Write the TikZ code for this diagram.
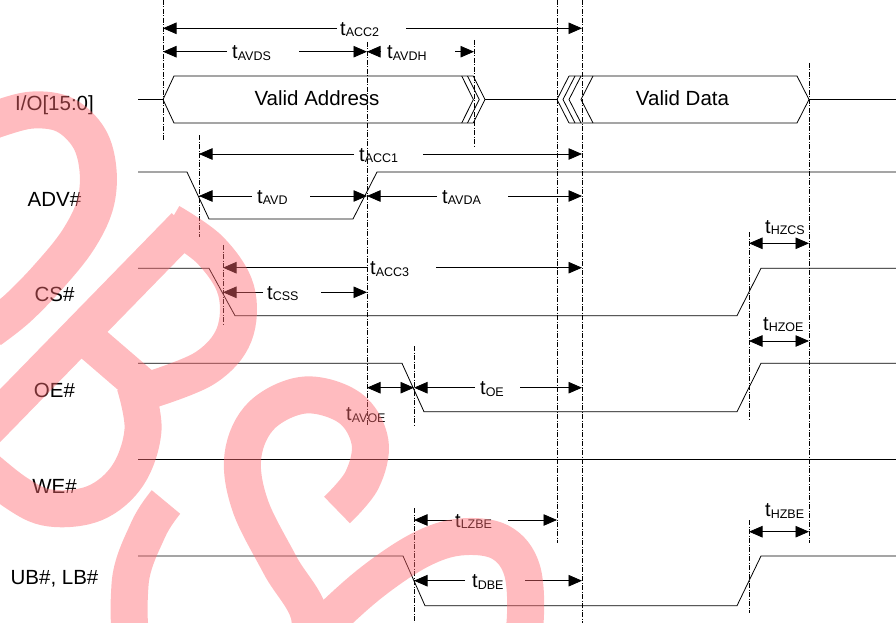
\documentclass[tikz,border=0pt]{standalone}
\usepackage{fontspec}
\setmainfont{Liberation Sans}
\usetikzlibrary{arrows.meta}
\definecolor{wmc}{RGB}{255,105,112}
\newcommand{\Tsub}[1]{t{\fontsize{12.5}{13}\selectfont\raisebox{-1.5pt}{#1}}}
\newcommand{\DimG}[8]{%
  \coordinate (#1a) at (#3,#2);
  \coordinate (#1b) at (#4,#2);
  \coordinate (#1l) at (#5,#2);
  \coordinate (#1r) at (#6,#2);
  \draw[dimarr] (#1l) -- (#1a);
  \draw[dimarr] (#1r) -- (#1b);
  \node[tlab] (#1t) at (#7,#2+7) {\Tsub{#8}};
}
\begin{document}
\begin{tikzpicture}[x=1pt,y=-1pt,
  sig/.style={line width=0.8pt, line join=miter},
  vl/.style={line width=0.55pt, dash pattern=on 5pt off 1.5pt on 1pt off 1.5pt},
  dimarr/.style={line width=0.8pt, -{Triangle[length=13.5pt,width=11.5pt]}},
  dimboth/.style={line width=0.8pt, {Triangle[length=13.5pt,width=11.5pt]}-{Triangle[length=13.5pt,width=11.5pt]}},
  siglab/.style={font=\fontsize{20.5}{22}\selectfont, inner sep=0pt, anchor=base},
  boxlab/.style={font=\fontsize{20.5}{22}\selectfont, inner sep=0pt},
  tlab/.style={font=\fontsize{20}{22}\selectfont, inner sep=0pt, anchor=base west},
  wm/.style={draw=wmc, line width=37pt, opacity=0.45, line cap=butt, line join=round}]
\useasboundingbox (0,0) rectangle (896,623);

% signal names
\node[siglab] (lio)  at (54.5,110.5) {I/O[15:0]};
\node[siglab] (ladv) at (54.5,206) {ADV\#};
\node[siglab] (lcs)  at (54.5,301) {CS\#};
\node[siglab] (loe)  at (54.5,397.5) {OE\#};
\node[siglab] (lwe)  at (54.5,493) {WE\#};
\node[siglab] (lub)  at (54.5,584) {UB\#, LB\#};

% vertical reference lines
\draw[vl] (163,0) -- (163,141);
\draw[vl] (199,135) -- (199,237);
\draw[vl] (223,245) -- (223,325);
\draw[vl] (367,42) -- (367,425);
\draw[vl] (414,346) -- (414,427);
\draw[vl] (414,508) -- (414,623);
\draw[vl] (474,40) -- (474,147);
\draw[vl] (557,0) -- (557,543);
\draw[vl] (582,0) -- (582,623);
\draw[vl] (749,232) -- (749,420);
\draw[vl] (749,520) -- (749,613);
\draw[vl] (809,63) -- (809,543);

% I/O bus
\draw[sig] (138,99.5) -- (163,99.5) -- (174,76) -- (473.3,76);
\draw[sig] (163,99.5) -- (174,123) -- (473.3,123);
\foreach \x in {461.7,467.5,473.3} \draw[sig] (\x,76) -- (\x+11.7,99.5) -- (\x,123);
\draw[sig] (485,99.5) -- (557,99.5);
\foreach \x in {557,563,569,581} \draw[sig] (\x+12,76) -- (\x,99.5) -- (\x+12,123);
\draw[sig] (569,76) -- (797,76) -- (809,99.5) -- (797,123) -- (569,123);
\draw[sig] (809,99.5) -- (896,99.5);
\node[boxlab] (va) at (317,98.5) {Valid Address};
\node[boxlab] (vd) at (682.5,98.5) {Valid Data};

% control signals
\draw[sig] (138,172) -- (187,172) -- (209,219) -- (353,219) -- (377,172) -- (896,172);
\draw[sig] (138,268.3) -- (209,268.3) -- (235,315.7) -- (737,315.7) -- (761,268.3) -- (896,268.3);
\draw[sig] (138,363.3) -- (402,363.3) -- (424,411.7) -- (737,411.7) -- (761,363.3) -- (896,363.3);
\draw[sig] (138,459) -- (896,459);
\draw[sig] (138,556) -- (403,556) -- (425,605.7) -- (737,605.7) -- (761,556) -- (896,556);

% timing dimensions
\DimG{ACC2}{28.3}{163}{582}{337}{406}{340}{ACC2}
\DimG{AVDS}{51.7}{163}{367}{227}{299}{232}{AVDS}
\DimG{AVDH}{51.7}{367}{474}{381}{455}{387}{AVDH}
\DimG{ACC1}{154}{199}{582}{354}{423}{359}{ACC1}
\DimG{AVD}{196}{199}{367}{252}{310}{257}{AVD}
\DimG{AVDA}{196}{367}{582}{437}{508}{442}{AVDA}
\DimG{ACC3}{267.7}{223}{582}{367}{436}{370}{ACC3}
\DimG{CSS}{292.3}{223}{367}{263}{321}{267}{CSS}
\DimG{OE}{387.7}{414}{582}{475}{520}{480}{OE}
\DimG{LZBE}{520}{414}{557}{452}{508}{455}{LZBE}
\DimG{DBE}{580.7}{414}{582}{465}{525}{472}{DBE}

\coordinate (hzcsa) at (749,243.3); \coordinate (hzcsb) at (809,243.3);
\draw[dimboth] (hzcsa) -- (hzcsb);
\node[tlab] (hzcst) at (765,233) {\Tsub{HZCS}};
\coordinate (hzoea) at (749,341); \coordinate (hzoeb) at (809,341);
\draw[dimboth] (hzoea) -- (hzoeb);
\node[tlab] (hzoet) at (763,330) {\Tsub{HZOE}};
\coordinate (hzbea) at (749,531.7); \coordinate (hzbeb) at (809,531.7);
\draw[dimboth] (hzbea) -- (hzbeb);
\node[tlab] (hzbet) at (765,516.7) {\Tsub{HZBE}};
\coordinate (avoea) at (367,387.7); \coordinate (avoeb) at (414,387.7);
\draw[dimboth] (avoea) -- (avoeb);
\node[tlab] (avoet) at (346,420.7) {\Tsub{AVOE}};

% watermark
\begin{scope}
\clip (0,0) rectangle (896,623);
\draw[wm]
  plot[smooth, tension=0.6] coordinates {(-25,128) (0,118) (33,110) (65,115) (89,138) (98,170) (95,205) (78,240) (50,275) (18,308) (-10,330)}
  plot coordinates {(-50,467) (185,226)}
  plot[smooth, tension=0.6] coordinates {(170,222) (210,250) (236,290) (234,335) (205,368) (150,390)}
  plot coordinates {(78,331) (150,393)}
  plot[smooth, tension=0.6] coordinates {(135,385) (143,430) (128,475) (95,503) (50,508) (15,492) (-30,455)}
  plot[smooth, tension=0.6] coordinates {(166,502) (148,530) (130,585) (140,660) (210,700) (290,680) (310,620) (280,565) (250,505) (243,455) (262,415) (305,395) (350,408) (370,442) (362,480) (337,510)}
  plot[smooth, tension=0.6] coordinates {(290,660) (326,623) (372,582) (420,550) (460,537) (500,542) (522,570) (525,623) (515,660)};
\end{scope}
\end{tikzpicture}
\end{document}
